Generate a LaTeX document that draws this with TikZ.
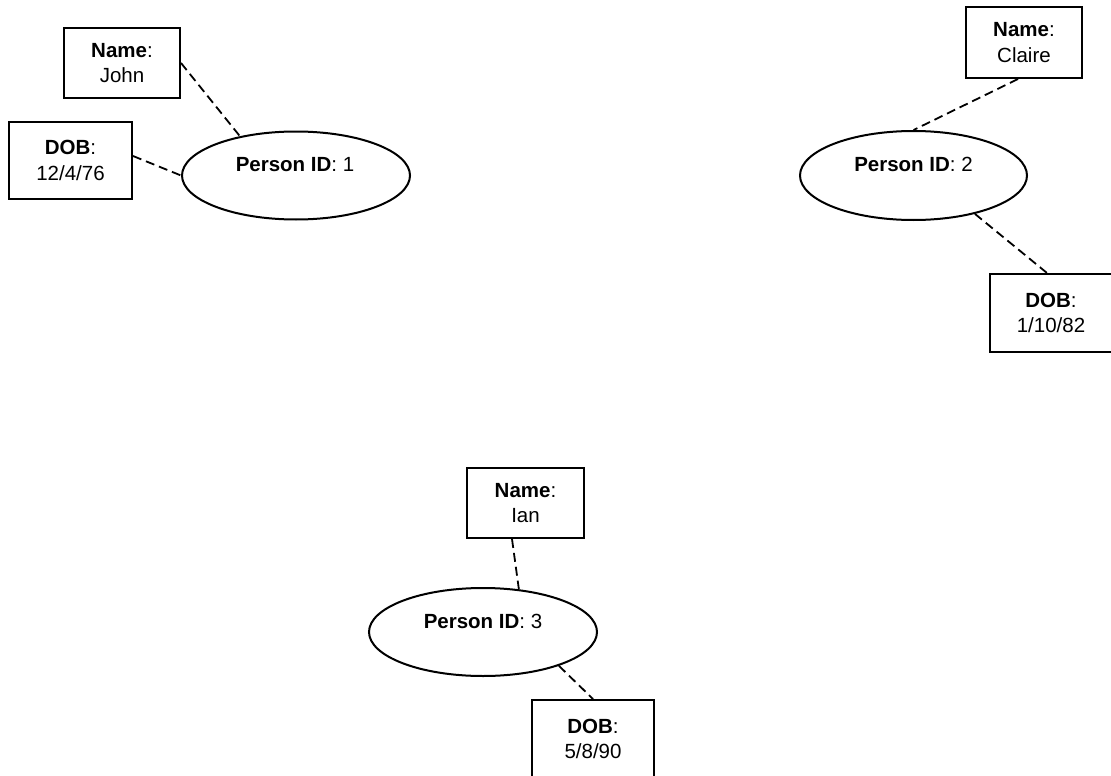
\documentclass[tikz,border=0pt]{standalone}
\usepackage{fontspec}
\setmainfont{Liberation Sans}
\usetikzlibrary{shapes.geometric}
\begin{document}
\begin{tikzpicture}[x=1pt,y=-1pt,
  attrbox/.style={draw, line width=2pt, rectangle, inner sep=0pt, align=center,
    font=\fontsize{20.5}{25.5}\selectfont},
  entity/.style={draw, line width=2pt, ellipse, inner sep=0pt},
  idtext/.style={anchor=base, inner sep=0pt, font=\fontsize{20.5}{25.5}\selectfont},
  link/.style={line width=1.8pt, dash pattern=on 9pt off 5pt}]
\useasboundingbox (0,0) rectangle (1111,776);
\clip (0,0) rectangle (1111,776);
% person 1
\node[entity, minimum width=228pt, minimum height=88pt] (e1) at (296,175.5) {};
\node[idtext] (t1) at (295,171.5) {\textbf{Person ID}: 1};
\node[attrbox, minimum width=116pt, minimum height=70pt] (name1) at (122,63) {\textbf{Name}:\\John};
\node[attrbox, minimum width=123pt, minimum height=77pt] (dob1) at (70.5,160.5) {\textbf{DOB}:\\12/4/76};
\draw[link] (name1.east) -- (e1.145.6);
\draw[link] ([yshift=4.5pt]dob1.east) -- (e1.west);
% person 2
\node[entity, minimum width=227pt, minimum height=89pt] (e2) at (913.5,175.5) {};
\node[idtext] (t2) at (913.5,171.5) {\textbf{Person ID}: 2};
\node[attrbox, minimum width=116pt, minimum height=71pt] (name2) at (1024,42.5) {\textbf{Name}:\\Claire};
\node[attrbox, minimum width=122pt, minimum height=78pt] (dob2) at (1051,313) {\textbf{DOB}:\\1/10/82};
\draw[link] ([xshift=-6pt]name2.south) -- (e2.north);
\draw[link] (e2.-32.5) -- ([xshift=-4pt]dob2.north);
% person 3
\node[entity, minimum width=228pt, minimum height=88pt] (e3) at (483,632) {};
\node[idtext] (t3) at (483,628.5) {\textbf{Person ID}: 3};
\node[attrbox, minimum width=117pt, minimum height=70pt] (name3) at (525.5,503) {\textbf{Name}:\\Ian};
\node[attrbox, minimum width=122pt, minimum height=78pt] (dob3) at (593,739) {\textbf{DOB}:\\5/8/90};
\draw[link] ([xshift=-13.5pt]name3.south) -- (e3.50);
\draw[link] (e3.-24) -- (dob3.north);
\end{tikzpicture}
\end{document}
